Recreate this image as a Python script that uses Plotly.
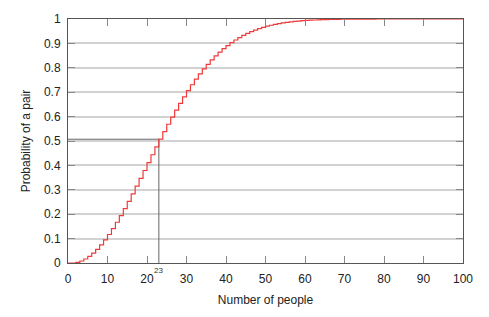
import plotly.graph_objects as go

people = list(range(0, 101))
prob_pair = [
    0.0, 0.0, 0.0027, 0.0082, 0.0164, 0.0271, 0.0405, 0.0562, 0.0743, 0.0946,
    0.1169, 0.1411, 0.1670, 0.1944, 0.2231, 0.2529, 0.2836, 0.3150, 0.3469, 0.3791,
    0.4114, 0.4437, 0.4757, 0.5073, 0.5383, 0.5687, 0.5982, 0.6269, 0.6545, 0.6810,
    0.7063, 0.7305, 0.7533, 0.7750, 0.7953, 0.8144, 0.8322, 0.8487, 0.8641, 0.8782,
    0.8912, 0.9032, 0.9140, 0.9239, 0.9329, 0.9410, 0.9483, 0.9548, 0.9606, 0.9658,
    0.9704, 0.9744, 0.9780, 0.9811, 0.9839, 0.9863, 0.9883, 0.9901, 0.9917, 0.9930,
    0.9941, 0.9951, 0.9959, 0.9966, 0.9972, 0.9977, 0.9981, 0.9984, 0.9987, 0.9990,
    0.9992, 0.9993, 0.9995, 0.9996, 0.9996, 0.9997, 0.9998, 0.9998, 0.9999, 0.9999,
    0.9999, 1.0, 1.0, 1.0, 1.0, 1.0, 1.0, 1.0, 1.0, 1.0,
    1.0, 1.0, 1.0, 1.0, 1.0, 1.0, 1.0, 1.0, 1.0, 1.0, 1.0,
]
marked_n = 23
x_ticks = list(range(0, 101, 10))
y_ticks = [i / 10 for i in range(11)]
y_tick_text = ["0", "0.1", "0.2", "0.3", "0.4", "0.5", "0.6", "0.7", "0.8", "0.9", "1"]

p_marked = prob_pair[marked_n]

fig = go.Figure()
# reference lines at n = 23
fig.add_trace(go.Scatter(x=[marked_n, marked_n], y=[0, p_marked], mode="lines",
                         line=dict(color="#666666", width=1), hoverinfo="skip"))
fig.add_trace(go.Scatter(x=[0, marked_n], y=[p_marked, p_marked], mode="lines",
                         line=dict(color="#666666", width=1), hoverinfo="skip"))
fig.add_trace(go.Scatter(x=people, y=prob_pair, mode="lines", line_shape="hv",
                         line=dict(color="#f03a3a", width=1.2)))

fig.add_annotation(x=marked_n, y=0, text="23", showarrow=False, xanchor="center",
                   yanchor="top", yshift=-1, font=dict(size=8, color="#333333"))

axis_common = dict(showline=True, linecolor="#555555", linewidth=1, mirror="ticks",
                   ticks="inside", ticklen=7, tickcolor="#888888", tickwidth=1,
                   zeroline=False, tickfont=dict(size=12, color="#222222"))

fig.update_xaxes(range=[0, 100], tickvals=x_ticks, showgrid=False, ticklabelstandoff=5,
                 title=dict(text="Number of people", font=dict(size=12, color="#222222"), standoff=10),
                 **axis_common)
fig.update_yaxes(range=[0, 1], tickvals=y_ticks, ticktext=y_tick_text, showgrid=True,
                 gridcolor="#d2d2d2", gridwidth=1.5, ticklabelstandoff=4,
                 title=dict(text="Probability of a pair", font=dict(size=12, color="#222222"), standoff=10),
                 **axis_common)

fig.update_layout(width=489, height=317, margin=dict(l=68, r=26, t=18, b=52),
                  paper_bgcolor="white", plot_bgcolor="white", showlegend=False,
                  font=dict(family="Liberation Sans, Arial, sans-serif", size=12, color="#222222"))

fig.write_html("out.html")
